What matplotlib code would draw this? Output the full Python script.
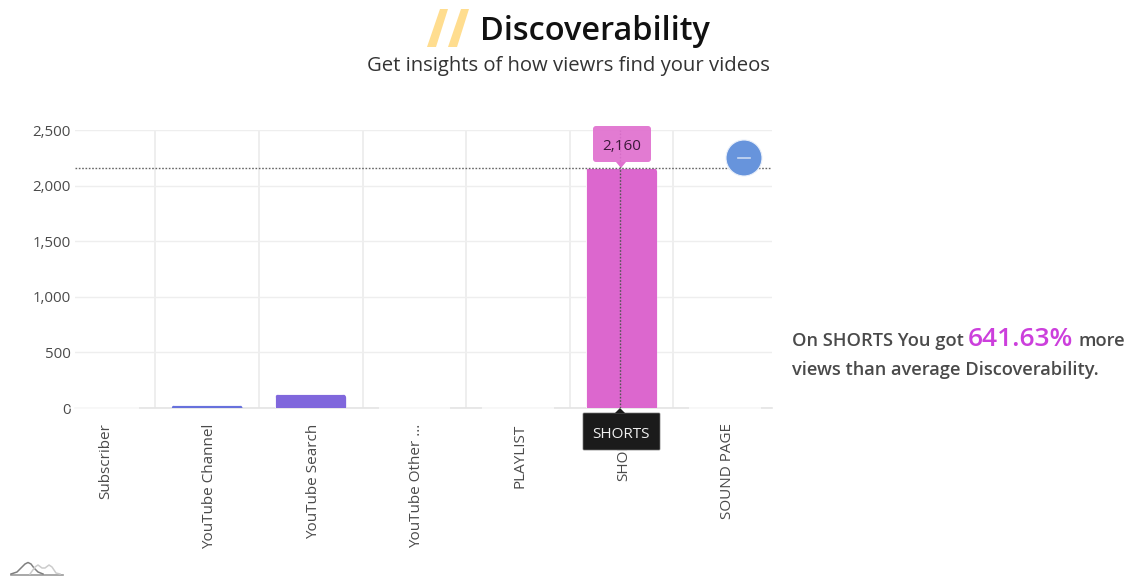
import matplotlib
matplotlib.use("Agg")
import matplotlib.pyplot as plt
from matplotlib.patches import FancyBboxPatch, Polygon, Circle
from matplotlib.transforms import ScaledTranslation

plt.rcParams['font.family'] = ['Open Sans', 'DejaVu Sans']

# --- DATA ---
categories = ["Subscriber", "YouTube Channel", "YouTube Search", "YouTube Other ...",
              "PLAYLIST", "SHORTS", "SOUND PAGE"]
views = [0, 30, 126, 0, 0, 2160, 0]
bar_colors = ["#6794dc", "#6771dc", "#8067dc", "#a367dc", "#c767dc", "#dc67ce", "#dc6788"]
y_ticks = [0, 500, 1000, 1500, 2000, 2500]
y_labels = ["0", "500", "1,000", "1,500", "2,000", "2,500"]
highlight = 5

# --- LAYOUT (pixels of the 1130x584 picture) ---
W, H = 1130, 584
LEFT, RIGHT, TOP, BOTTOM = 75, 772, 130, 408
FIRST_CENTER, STEP = 103.5, 103.6
TEXT_COLOR = "#4a4a4a"

fig = plt.figure(figsize=(W / 100, H / 100), dpi=100, facecolor="white")
ax = fig.add_axes([LEFT / W, 1 - BOTTOM / H, (RIGHT - LEFT) / W, (BOTTOM - TOP) / H])
ax.set_xlim((LEFT - FIRST_CENTER) / STEP, (RIGHT - FIRST_CENTER) / STEP)
ax.set_ylim(0, 2500)

# 1. Grid
for s in ax.spines.values():
    s.set_visible(False)
ax.set_xticks(range(len(categories)))
ax.set_xticklabels(categories, rotation=90, ha="center", va="top", fontsize=11, color=TEXT_COLOR)
ax.set_xticks([i + 0.5 for i in range(len(categories) - 1)], minor=True)
ax.set_yticks(y_ticks)
ax.set_yticklabels(y_labels, fontsize=10.8, color=TEXT_COLOR)
ax.tick_params(axis="x", which="major", length=0, pad=11)
ax.tick_params(axis="x", which="minor", length=0)
ax.tick_params(axis="y", length=0, pad=3)
ax.grid(True, axis="y", color="#eeeeee", lw=1.0)
ax.grid(True, axis="x", which="minor", color="#e9e9e9", lw=1.1)
ax.set_axisbelow(True)
ax.axhline(0, color="#e4e4e4", lw=1.2, clip_on=False, zorder=1)

# labels sit a little right of the bar centers
label_shift = ScaledTranslation(2.5 / 100, 0, fig.dpi_scale_trans)
for lab in ax.get_xticklabels():
    lab.set_transform(lab.get_transform() + label_shift)

# 2. Bars, rounded on top through a clip shape
bars = ax.bar(range(len(categories)), views, width=0.69, color=bar_colors,
              edgecolor="#ffffff", lw=0.6, zorder=2, clip_on=False)
round_x = 0.05
aspect = (2500 / (BOTTOM - TOP)) * STEP
for bar in bars:
    if bar.get_height() == 0:
        bar.set_linewidth(1.2)
        bar.set_alpha(0.85)
        continue
    shape = FancyBboxPatch((bar.get_x(), -200), bar.get_width(), bar.get_height() + 200,
                           boxstyle=f"round,pad=0,rounding_size={round_x}",
                           mutation_aspect=aspect, transform=ax.transData)
    bar.set_clip_on(True)
    bar.set_clip_path(shape)

# 3. Crosshair on the hovered bar
ax.axhline(views[highlight], color="#666666", lw=1, ls=(0, (1.2, 1.2)), zorder=3)
ax.axvline(highlight - 1.5 / STEP, color="#555555", lw=1, ls=(0, (1.2, 1.2)), zorder=3)

# --- Overlay in picture pixels for the title, tooltips and notes ---
ov = fig.add_axes([0, 0, 1, 1], facecolor="none")
ov.set_xlim(0, W)
ov.set_ylim(H, 0)
ov.axis("off")

# Title block
ov.add_patch(Polygon([(440, 9), (448, 9), (436, 47), (427, 47)], color="#ffdd8f", lw=0))
ov.add_patch(Polygon([(461, 9), (469, 9), (457, 47), (448, 47)], color="#ffdd8f", lw=0))
ov.text(480, 40, "Discoverability", fontsize=23.4, fontweight=600, color="#111111", ha="left", va="baseline")
ov.text(568, 71, "Get insights of how viewrs find your videos", fontsize=14.6, color="#333333",
        ha="center", va="baseline")

# Value tooltip
ov.add_patch(FancyBboxPatch((593, 126), 58, 36, boxstyle="round,pad=0,rounding_size=3",
                            fc="#e070cf", ec="none", alpha=0.92))
ov.add_patch(Polygon([(616, 162), (626, 162), (621, 168)], fc="#e070cf", ec="none"))
ov.text(621.5, 150, f"{views[highlight]:,}", fontsize=11, color="#3c1a3a", ha="center", va="baseline")

# Category tooltip
ov.add_patch(FancyBboxPatch((583, 413), 77, 37, boxstyle="round,pad=0,rounding_size=1",
                            fc="#1b1b1b", ec="#777777", lw=0.5))
ov.add_patch(Polygon([(615, 413), (625, 413), (620, 408)], fc="#1b1b1b", ec="none"))
ov.text(621, 438, categories[highlight], fontsize=11, color="#f0f0f0", ha="center", va="baseline")

# Zoom-out button
ov.add_patch(Circle((744, 158), 18, fc="#6794dc", ec="#e8effa", lw=0.8))
ov.plot([738, 750], [158, 158], color="#c9d9f2", lw=1.2)

# Note on the right
ov.text(792, 346, "On SHORTS You got", fontsize=13.15, fontweight=600, color=TEXT_COLOR, ha="left", va="baseline")
ov.text(968, 346, "641.63%", fontsize=19, fontweight=600, color="#cc3fdc", ha="left", va="baseline")
ov.text(1079, 346, "more", fontsize=13.15, fontweight=600, color=TEXT_COLOR, ha="left", va="baseline")
ov.text(792, 375, "views than average Discoverability.", fontsize=13.15, fontweight=600, color=TEXT_COLOR,
        ha="left", va="baseline")

# Small logo, bottom left
ov.plot([11, 63], [574.5, 574.5], color="#9a9a9a", lw=1.2)
ov.plot([11, 17, 21, 25, 28, 31, 34, 38, 43], [574, 572, 568, 564, 562.5, 564, 568, 572, 574],
        color="#808080", lw=1.1)
ov.plot([30, 35, 38, 42, 45, 49, 52, 56, 60], [574, 567, 565, 568, 568, 565, 567, 573, 574],
        color="#cccccc", lw=1.1)

fig.savefig("out.png", dpi=100, facecolor="white")
